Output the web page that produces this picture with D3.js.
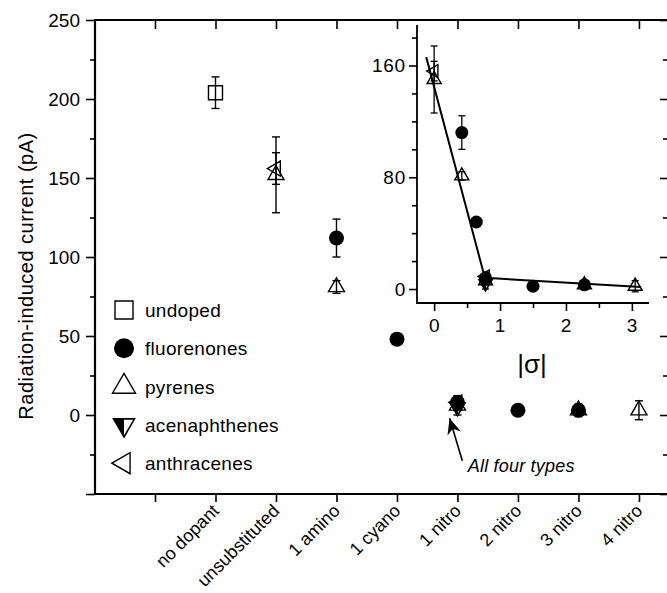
<!DOCTYPE html>
<html>
<head>
<meta charset="utf-8">
<script src="https://cdn.jsdelivr.net/npm/d3@7"></script>
<style>
  body { margin: 0; background: #fff; }
  text { font-family: "Liberation Sans", Arial, sans-serif; fill: #000; }
</style>
</head>
<body>
<svg id="chart"></svg>
<script>
const width = 667;
const height = 593;

// categories on the main x axis (tick 0 is left empty)
const categories = ['no dopant', 'unsubstituted', '1 amino', '1 cyano', '1 nitro', '2 nitro', '3 nitro', '4 nitro'];
const seriesNames = ['undoped', 'fluorenones', 'pyrenes', 'acenaphthenes', 'anthracenes'];

// main plot: value (pA) and error per category
const undoped = [{c: 'no dopant', v: 204, e: 10}];
const fluorenones = [
  {c: '1 amino', v: 112, e: 12}, {c: '1 cyano', v: 48, e: 2}, {c: '1 nitro', v: 8, e: 4},
  {c: '2 nitro', v: 3, e: 1}, {c: '3 nitro', v: 3, e: 4}
];
const pyrenes = [
  {c: 'unsubstituted', v: 152, e: 24}, {c: '1 amino', v: 81, e: 4}, {c: '1 nitro', v: 6, e: 3},
  {c: '3 nitro', v: 3, e: 3}, {c: '4 nitro', v: 3, e: 6}
];
const acenaphthenes = [{c: '1 nitro', v: 5, e: 5}];
const anthracenes = [{c: 'unsubstituted', v: 156, e: 10}, {c: '1 nitro', v: 8, e: 4}];

// inset: |sigma| vs current
const insetFluorenones = [
  {s: 0.42, v: 112, e: 12}, {s: 0.64, v: 48, e: 2}, {s: 0.78, v: 8, e: 3},
  {s: 1.5, v: 2, e: 1}, {s: 2.28, v: 3, e: 1}
];
const insetPyrenes = [
  {s: 0.0, v: 150, e: 24}, {s: 0.42, v: 81, e: 3}, {s: 0.78, v: 6, e: 3},
  {s: 2.28, v: 3, e: 3}, {s: 3.05, v: 2, e: 4}
];
const insetAcenaphthenes = [{s: 0.78, v: 4, e: 4}];
const insetAnthracenes = [{s: 0.0, v: 156, e: 7}, {s: 0.78, v: 9, e: 3}];
const fitLine = [[-0.12, 166], [0.77, 8], [3.14, 1.5]];

const mainYTicks = [-50, 0, 50, 100, 150, 200, 250];
const mainYMinor = [-25, 25, 75, 125, 175, 225];
const insetYTicks = [0, 80, 160];
const insetYMinor = [20, 40, 60, 100, 120, 140, 180];
const insetXTicks = [0, 1, 2, 3];
const insetXMinor = [0.5, 1.5, 2.5];

const svg = d3.select('#chart').attr('width', width).attr('height', height);

const x = d3.scaleLinear().domain([-1, 8.48]).range([94.5, 668]);
const y = d3.scaleLinear().domain([-50, 250]).range([494, 20]);
const cx = c => x(categories.indexOf(c) + 1);

// marker shapes
function markerPath(type, s) {
  const h = s * 0.866;
  if (type === 'square') return `M${-s/2},${-s/2}h${s}v${s}h${-s}Z`;
  if (type === 'circle') return d3.symbol(d3.symbolCircle, Math.PI * s * s / 4)();
  if (type === 'up') return `M0,${-h*2/3}L${s/2},${h/3}L${-s/2},${h/3}Z`;
  if (type === 'down') return `M0,${h*2/3}L${s/2},${-h/3}L${-s/2},${-h/3}Z`;
  if (type === 'left') return `M${-h*2/3},0L${h/3},${-s/2}L${h/3},${s/2}Z`;
}
function drawMarker(g, type, s) {
  if (type === 'circle') {
    g.append('path').attr('d', markerPath('circle', s)).attr('fill', '#000');
  } else if (type === 'half') {
    const h = s * 0.866;
    g.append('path').attr('d', markerPath('down', s)).attr('fill', 'none').attr('stroke', '#000').attr('stroke-width', 1.6);
    g.append('path').attr('d', `M0,${h*2/3}L${-s/2},${-h/3}L0,${-h/3}Z`).attr('fill', '#000');
  } else {
    g.append('path').attr('d', markerPath(type, s)).attr('fill', 'none').attr('stroke', '#000').attr('stroke-width', 1.4);
  }
}
function series(layer, data, type, s, px, py) {
  data.forEach(d => {
    const g = layer.append('g').attr('transform', `translate(${px(d)},${py(d.v)})`);
    drawMarker(g, type, s);
  });
}
function errorBars(layer, data, px, py, cap) {
  data.forEach(d => {
    const xx = px(d);
    layer.append('line').attr('x1', xx).attr('x2', xx).attr('y1', py(d.v - d.e)).attr('y2', py(d.v + d.e));
    [d.v - d.e, d.v + d.e].forEach(v => {
      layer.append('line').attr('x1', xx - cap/2).attr('x2', xx + cap/2).attr('y1', py(v)).attr('y2', py(v));
    });
  });
}

// ---------- main axes ----------
const axisStyle = g => {
  g.select('.domain').remove();
  g.selectAll('.tick line').attr('stroke', '#000').attr('stroke-width', 1.6);
  g.selectAll('.tick text').style('font-size', '19px');
};

svg.append('g').attr('transform', 'translate(95,0)')
  .call(d3.axisLeft(y).tickValues(mainYTicks).tickSize(9).tickPadding(6).tickFormat(d => d === -50 ? '' : d))
  .call(axisStyle);
svg.append('g').attr('transform', 'translate(95,0)')
  .call(d3.axisLeft(y).tickValues(mainYMinor).tickSize(5).tickFormat(''))
  .call(axisStyle);
// right side ticks (inward)
svg.append('g').attr('transform', 'translate(668,0)')
  .call(d3.axisLeft(y).tickValues(mainYTicks).tickSize(8).tickFormat(''))
  .call(axisStyle);
svg.append('g').attr('transform', 'translate(668,0)')
  .call(d3.axisLeft(y).tickValues(mainYMinor).tickSize(5).tickFormat(''))
  .call(axisStyle);
// top ticks (inward)
svg.append('g').attr('transform', 'translate(0,20)')
  .call(d3.axisBottom(x).tickValues(d3.range(0, 9)).tickSize(9).tickFormat(''))
  .call(axisStyle);
// bottom ticks with rotated category labels
const xAxis = svg.append('g').attr('transform', 'translate(0,494)')
  .call(d3.axisBottom(x).tickValues(d3.range(0, 9)).tickSize(8).tickFormat(i => i === 0 ? '' : categories[i - 1]))
  .call(axisStyle);
xAxis.selectAll('.tick text')
  .attr('x', 0).attr('y', 0).attr('dy', 0)
  .attr('transform', 'translate(4,18) rotate(-45)')
  .style('text-anchor', 'end').style('font-size', '18px');

// frame
svg.append('path')
  .attr('d', `M668,20H95V494H668`)
  .attr('fill', 'none').attr('stroke', '#000').attr('stroke-width', 2.2);

svg.append('text')
  .attr('transform', `translate(33,276) rotate(-90)`)
  .attr('text-anchor', 'middle')
  .style('font-size', '20px').style('letter-spacing', '0.5px')
  .text('Radiation-induced current (pA)');

// ---------- main data ----------
const marks = svg.append('g');
const bars = svg.append('g').attr('stroke', '#000').attr('stroke-width', 1.4);
const px = d => cx(d.c);
series(marks, pyrenes, 'up', 16, px, y);
series(marks, anthracenes, 'left', 15, px, y);
series(marks, acenaphthenes, 'half', 15, px, y);
series(marks, undoped, 'square', 14, px, y);
series(marks, fluorenones, 'circle', 15, px, y);
[undoped, pyrenes, anthracenes, acenaphthenes, fluorenones].forEach(s => errorBars(bars, s, px, y, 8));

// ---------- legend ----------
const legendTypes = ['square', 'circle', 'up', 'half', 'left'];
const legendSizes = [18, 20, 23, 21, 21];
seriesNames.forEach((name, i) => {
  const ly = 310 + i * 38.3;
  const g = svg.append('g').attr('transform', `translate(124,${ly})`);
  drawMarker(g, legendTypes[i], legendSizes[i]);
  svg.append('text').attr('x', 145).attr('y', ly + 7)
    .style('font-size', '19px').style('letter-spacing', '0.3px').text(name);
});

// ---------- annotation ----------
svg.append('defs').append('marker')
  .attr('id', 'arrow').attr('viewBox', '-16 -8 18 16')
  .attr('refX', 0).attr('refY', 0).attr('markerWidth', 18).attr('markerHeight', 16)
  .attr('markerUnits', 'userSpaceOnUse').attr('orient', 'auto')
  .append('path').attr('d', 'M0,0L-16,-7L-11,0L-16,7Z').attr('fill', '#000');
svg.append('line')
  .attr('x1', x(5.08)).attr('y1', y(-29)).attr('x2', x(4.87)).attr('y2', y(-2))
  .attr('stroke', '#000').attr('stroke-width', 1.6).attr('marker-end', 'url(#arrow)');
svg.append('text').attr('x', x(5.17)).attr('y', y(-36))
  .style('font-size', '18px').style('font-style', 'italic').style('letter-spacing', '0.2px')
  .text('All four types');

// ---------- inset ----------
const xs = d3.scaleLinear().domain([-0.26, 3.26]).range([417, 649]);
const ys = d3.scaleLinear().domain([-10, 189]).range([303, 25]);
const insetText = g => g.selectAll('.tick text').style('letter-spacing', '0.8px');

svg.append('g').attr('transform', 'translate(417,0)')
  .call(d3.axisLeft(ys).tickValues(insetYTicks).tickSize(8).tickPadding(3))
  .call(axisStyle).call(insetText);
svg.append('g').attr('transform', 'translate(417,0)')
  .call(d3.axisLeft(ys).tickValues(insetYMinor).tickSize(5).tickFormat(''))
  .call(axisStyle);
svg.append('g').attr('transform', 'translate(0,303)')
  .call(d3.axisBottom(xs).tickValues(insetXTicks).tickSize(8).tickPadding(8).tickFormat(d3.format('d')))
  .call(axisStyle).call(insetText);
svg.append('g').attr('transform', 'translate(0,303)')
  .call(d3.axisBottom(xs).tickValues(insetXMinor).tickSize(5).tickFormat(''))
  .call(axisStyle);
svg.append('path')
  .attr('d', `M417,25V303H649`)
  .attr('fill', 'none').attr('stroke', '#000').attr('stroke-width', 1.8);

svg.append('path')
  .datum(fitLine)
  .attr('d', d3.line().x(d => xs(d[0])).y(d => ys(d[1])))
  .attr('fill', 'none').attr('stroke', '#000').attr('stroke-width', 2);

const imarks = svg.append('g');
const ibars = svg.append('g').attr('stroke', '#000').attr('stroke-width', 1.3);
const ipx = d => xs(d.s);
series(imarks, insetPyrenes, 'up', 14, ipx, ys);
series(imarks, insetAnthracenes, 'left', 13, ipx, ys);
series(imarks, insetAcenaphthenes, 'half', 13, ipx, ys);
series(imarks, insetFluorenones, 'circle', 13, ipx, ys);
[insetPyrenes, insetAnthracenes, insetAcenaphthenes, insetFluorenones].forEach(s => errorBars(ibars, s, ipx, ys, 7));

svg.append('text').attr('x', 532).attr('y', 373).attr('text-anchor', 'middle')
  .style('font-size', '26px').text('|σ|');
</script>
</body>
</html>
